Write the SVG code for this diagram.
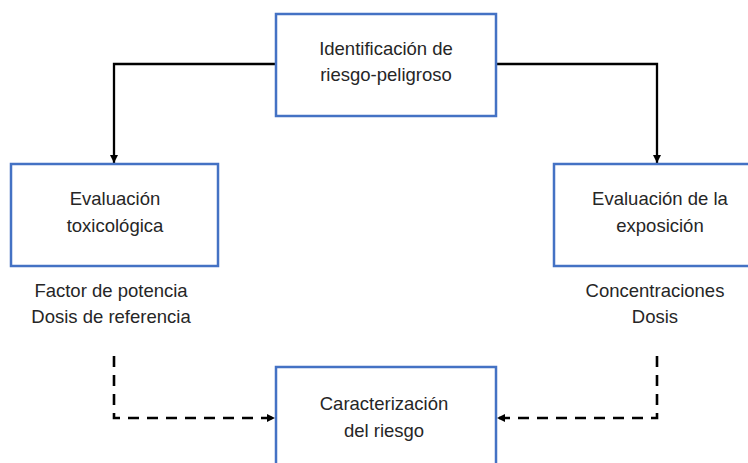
<svg xmlns="http://www.w3.org/2000/svg" width="748" height="463" viewBox="0 0 748 463">
<style>
.box{fill:#fff;stroke:#4472C4;stroke-width:2.5}
.t{font-family:"Liberation Sans",Arial,sans-serif;font-size:18.5px;fill:#262626;text-anchor:middle}
.solid{fill:none;stroke:#000;stroke-width:2.3}
.dash{fill:none;stroke:#000;stroke-width:2.6;stroke-dasharray:11 8}
</style>
<defs>
<marker id="arr" markerUnits="userSpaceOnUse" markerWidth="9" markerHeight="9" refX="8" refY="4.5" orient="auto">
<path d="M0,0.5 L8,4.5 L0,8.5 z" fill="#000"/>
</marker>
</defs>
<rect width="748" height="463" fill="#fff"/>
<g id="connectors">
<path class="solid" d="M276,64 H114 V163" marker-end="url(#arr)"/>
<path class="solid" d="M496,64 H657 V163" marker-end="url(#arr)"/>
<path class="dash" d="M114,356 V418 H275" marker-end="url(#arr)"/>
<path class="dash" d="M657,356 V418 H497" marker-end="url(#arr)"/>
</g>
<g id="identificacion">
<rect class="box" x="276" y="14" width="220" height="102"/>
<text class="t" x="386" y="55">Identificación de</text>
<text class="t" x="386" y="81">riesgo-peligroso</text>
</g>
<g id="toxicologica">
<rect class="box" x="11" y="164" width="207" height="102"/>
<text class="t" x="115" y="205">Evaluación</text>
<text class="t" x="115" y="232">toxicológica</text>
</g>
<g id="toxicologica-label">
<text class="t" x="111" y="297">Factor de potencia</text>
<text class="t" x="111" y="323">Dosis de referencia</text>
</g>
<g id="exposicion">
<rect class="box" x="554" y="164" width="212" height="102"/>
<text class="t" x="660" y="205">Evaluación de la</text>
<text class="t" x="660" y="232">exposición</text>
</g>
<g id="exposicion-label">
<text class="t" x="655" y="297">Concentraciones</text>
<text class="t" x="655" y="323">Dosis</text>
</g>
<g id="caracterizacion">
<rect class="box" x="276" y="367" width="220" height="110"/>
<text class="t" x="384" y="410">Caracterización</text>
<text class="t" x="384" y="437">del riesgo</text>
</g>
</svg>
